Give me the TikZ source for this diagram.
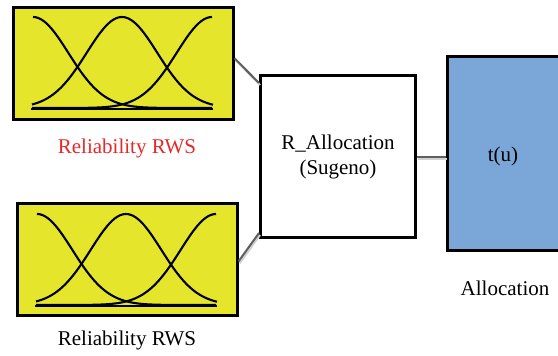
\documentclass[tikz,border=0pt]{standalone}
\usepackage{fontspec}
\setmainfont{Liberation Serif}
\usetikzlibrary{calc}
\definecolor{mfyellow}{RGB}{229,229,44}
\definecolor{outblue}{RGB}{123,167,216}
\definecolor{lblred}{RGB}{232,40,40}
\definecolor{linkgray}{RGB}{95,95,95}
\tikzset{
  mfbox/.style={draw=black, line width=2.6, fill=mfyellow, rectangle, inner sep=0,
    minimum width=220, minimum height=112, anchor=north west},
  fisbox/.style={draw=black, line width=3, fill=white, rectangle, inner sep=0,
    minimum width=155, minimum height=162, anchor=north west, align=center},
  outbox/.style={draw=black, line width=3, fill=outblue, rectangle, inner sep=0,
    minimum width=114, minimum height=194, anchor=north west},
  lbl/.style={font=\fontsize{21}{25}\selectfont},
  link/.style={draw=linkgray, line width=2,
    preaction={draw=black!18, line width=2, transform canvas={shift={(1pt,-2pt)}}}},
  mfcurve/.style={draw=black, line width=2.1, smooth},
}
% three overlapping gaussian membership functions inside a box
\newcommand{\mfset}{%
  \draw[mfcurve] plot[domain=21:200, samples=70] (\x, {102 - 91*exp(-0.5*((\x-21)/35.3)^2)});
  \draw[mfcurve] plot[domain=20:201, samples=70] (\x, {102 - 91*exp(-0.5*((\x-110)/35.3)^2)});
  \draw[mfcurve] plot[domain=20:200, samples=70] (\x, {102 - 91*exp(-0.5*((\x-200)/35.3)^2)});
  \draw[black, line width=2.1] (19,103) -- (201,103);
}
\begin{document}
\begin{tikzpicture}[x=1pt, y=-1pt]
\useasboundingbox (0,0) rectangle (558,356);
\clip (0,0) rectangle (558,356);

% input membership function boxes
\node[mfbox] (tl) at (12,6) {};
\node[mfbox] (bl) at (16,202) {};
\begin{scope}[shift={(12,6)}]\mfset\end{scope}
\begin{scope}[shift={(16,203)}]\mfset\end{scope}

% fuzzy inference system and output
\node[fisbox, lbl] (fis) at (259,74) {R\_Allocation\\(Sugeno)};
\node[outbox] (out) at (446,55) {};
\node[lbl] (tu) at (503,156) {t(u)};

% labels
\node[lbl, text=lblred] (ltop) at (127,148) {Reliability RWS};
\node[lbl] (lbot) at (127,340) {Reliability RWS};
\node[lbl] (lout) at (505,288) {Allocation};

% connectors
\draw[link] ([yshift=5]tl.east) -- ([yshift=-9]fis.north west);
\draw[link] ([yshift=-2]bl.east) -- ([yshift=6]fis.south west);
\draw[link] (fis.east) -- (fis.east -| out.west);
\end{tikzpicture}
\end{document}
